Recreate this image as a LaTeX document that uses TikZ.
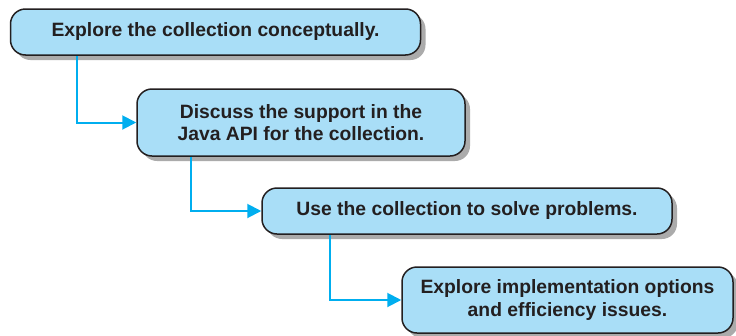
\documentclass[tikz,border=0pt]{standalone}
\usepackage{fontspec}
\setmainfont{Liberation Sans}
\usetikzlibrary{arrows.meta,shadows}
\definecolor{boxfill}{HTML}{A9DEF7}
\definecolor{boxline}{HTML}{231F20}
\definecolor{flow}{HTML}{00AEEF}
\definecolor{shade}{HTML}{ABABAB}
\begin{document}
\begin{tikzpicture}[x=1pt,y=-1pt,
  stepbox/.style={draw=boxline, line width=1.5pt, fill=boxfill, rounded corners=15pt,
    align=center, inner sep=0pt, text=boxline,
    font=\fontsize{19.3}{22.5}\selectfont\bfseries,
    drop shadow={shadow xshift=5pt, shadow yshift=-5pt, fill=shade, opacity=1}},
  flowline/.style={draw=flow, line width=2pt, -{Triangle[length=14pt,width=14pt]}}]
  \useasboundingbox (0,0) rectangle (736,335);
  \node[stepbox, minimum width=410pt, minimum height=46pt] (s1) at (215.5,32)
    {Explore the collection conceptually.};
  \node[stepbox, minimum width=328pt, minimum height=67pt] (s2) at (301,122.5)
    {Discuss the support in the\\Java API for the collection.};
  \node[stepbox, minimum width=410pt, minimum height=46pt] (s3) at (467,211)
    {Use the collection to solve problems.};
  \node[stepbox, minimum width=331pt, minimum height=66pt] (s4) at (567.5,300)
    {Explore implementation options\\and efficiency issues.};
  \draw[flowline] ([xshift=67pt]s1.south west) |- (s2.west);
  \draw[flowline] ([xshift=55pt]s2.south west) |- (s3.west);
  \draw[flowline] ([xshift=69pt]s3.south west) |- (s4.west);
\end{tikzpicture}
\end{document}
